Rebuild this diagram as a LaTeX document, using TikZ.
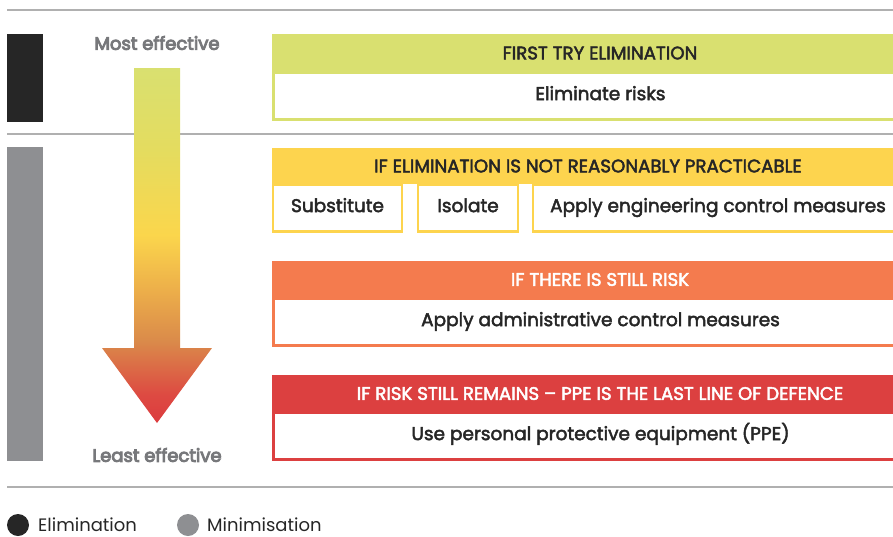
\documentclass[tikz,border=0pt]{standalone}
\usepackage{fontspec}
\setmainfont{Poppins}
\newfontfamily\medfont{Poppins}[FakeBold=2.5]
\newfontfamily\semifont{Poppins}[FakeBold=5]
\definecolor{ink}{HTML}{262626}
\definecolor{gbar}{HTML}{8E8F92}
\definecolor{rule}{HTML}{B0B0B0}
\definecolor{labgray}{HTML}{77787B}
\definecolor{cgreen}{HTML}{D9E070}
\definecolor{cyellow}{HTML}{FDD44E}
\definecolor{corange}{HTML}{F47B4E}
\definecolor{cred}{HTML}{DC4040}
\definecolor{sRed}{HTML}{DC3B3E}
\definecolor{sRed2}{HTML}{DD4A42}
\definecolor{sOrange}{HTML}{DA8A4A}
\definecolor{sAmber}{HTML}{EDB04A}
\definecolor{sYellow}{HTML}{FBD64C}
\definecolor{sLime}{HTML}{E4DC5F}
\definecolor{sGreen}{HTML}{D9E070}
\pgfdeclareverticalshading{arrowshade}{100bp}{color(0bp)=(sRed); color(25bp)=(sRed); color(29bp)=(sRed2); color(36.5bp)=(sOrange); color(44bp)=(sAmber); color(51.5bp)=(sYellow); color(63.5bp)=(sLime); color(75bp)=(sGreen); color(100bp)=(sGreen)}
\begin{document}
\begin{tikzpicture}[x=1pt,y=-1pt,
  hdr/.style={rectangle, minimum width=656pt, inner sep=0pt, font=\medfont\fontsize{18.2}{20}\selectfont},
  hdrtext/.style={inner sep=0pt, font=\medfont\fontsize{18.2}{20}\selectfont},
  bodybox/.style={rectangle, draw, line width=2.5pt, fill=white, inner sep=0pt, minimum height=47pt, text height=0.95em, text depth=0.13em, text=ink, font=\medfont\fontsize{18.5}{22}\selectfont},
  sidelab/.style={text=labgray, font=\semifont\fontsize{18}{21}\selectfont, inner sep=0pt},
  rulestyle/.style={draw=rule, line width=1.2pt},
  legtext/.style={anchor=base west, text=ink, text height=0.7em, text depth=0pt, font=\fontsize{18}{21}\selectfont, inner sep=0pt}]
\useasboundingbox (0,0) rectangle (893,536);
\clip (0,0) rectangle (893,536);
% rules
\coordinate (r1a) at (7,10); \coordinate (r1b) at (893,10);
\coordinate (r2a) at (7,134); \coordinate (r2b) at (893,134);
\coordinate (r3a) at (7,487); \coordinate (r3b) at (893,487);
\draw[rulestyle] (r1a) -- (r1b);
\draw[rulestyle] (r2a) -- (r2b);
\draw[rulestyle] (r3a) -- (r3b);
% side bars
\fill[ink] (7,34) rectangle (43,122);
\fill[gbar] (7,147) rectangle (43,461);
% arrow
\shade[shading=arrowshade] (134,68) -- (180,68) -- (180,348) -- (212,348) -- (157,423) -- (102,348) -- (134,348) -- cycle;
\node[sidelab] (most) at (157,43) {Most effective};
\node[sidelab] (least) at (157,455) {Least effective};
% box 1
\node[bodybox, draw=cgreen, minimum width=654pt] (b1) at (600.5,96) {Eliminate risks};
\node[hdr, fill=cgreen, minimum height=38pt, text=ink] (h1) at (600,53) {FIRST TRY ELIMINATION};
% box 2
\node[bodybox, draw=cyellow, minimum width=129pt] (s1) at (337.5,208) {Substitute};
\node[bodybox, draw=cyellow, minimum width=100pt] (s2) at (468,208) {Isolate};
\node[bodybox, draw=cyellow, minimum width=370pt] (s3) at (718,208) {Apply engineering control measures};
\node[hdr, fill=cyellow, minimum height=36pt] (h2) at (600,166) {};
\node[hdrtext, text=ink] (h2t) at (588,166) {IF ELIMINATION IS NOT REASONABLY PRACTICABLE};
% box 3
\node[bodybox, draw=corange, minimum width=654pt] (b3) at (600.5,322) {Apply administrative control measures};
\node[hdr, fill=corange, minimum height=37pt, text=white] (h3) at (600,279.5) {IF THERE IS STILL RISK};
% box 4
\node[bodybox, draw=cred, minimum width=654pt] (b4) at (600.5,436) {Use personal protective equipment (PPE)};
\node[hdr, fill=cred, minimum height=37pt, text=white] (h4) at (600,393.5) {IF RISK STILL REMAINS – PPE IS THE LAST LINE OF DEFENCE};
% legend
\fill[ink] (18,525) circle (11);
\fill[gbar] (188,525) circle (11);
\node[legtext] (le) at (38,531) {Elimination};
\node[legtext] (lm) at (207,531) {Minimisation};
\end{tikzpicture}
\end{document}
